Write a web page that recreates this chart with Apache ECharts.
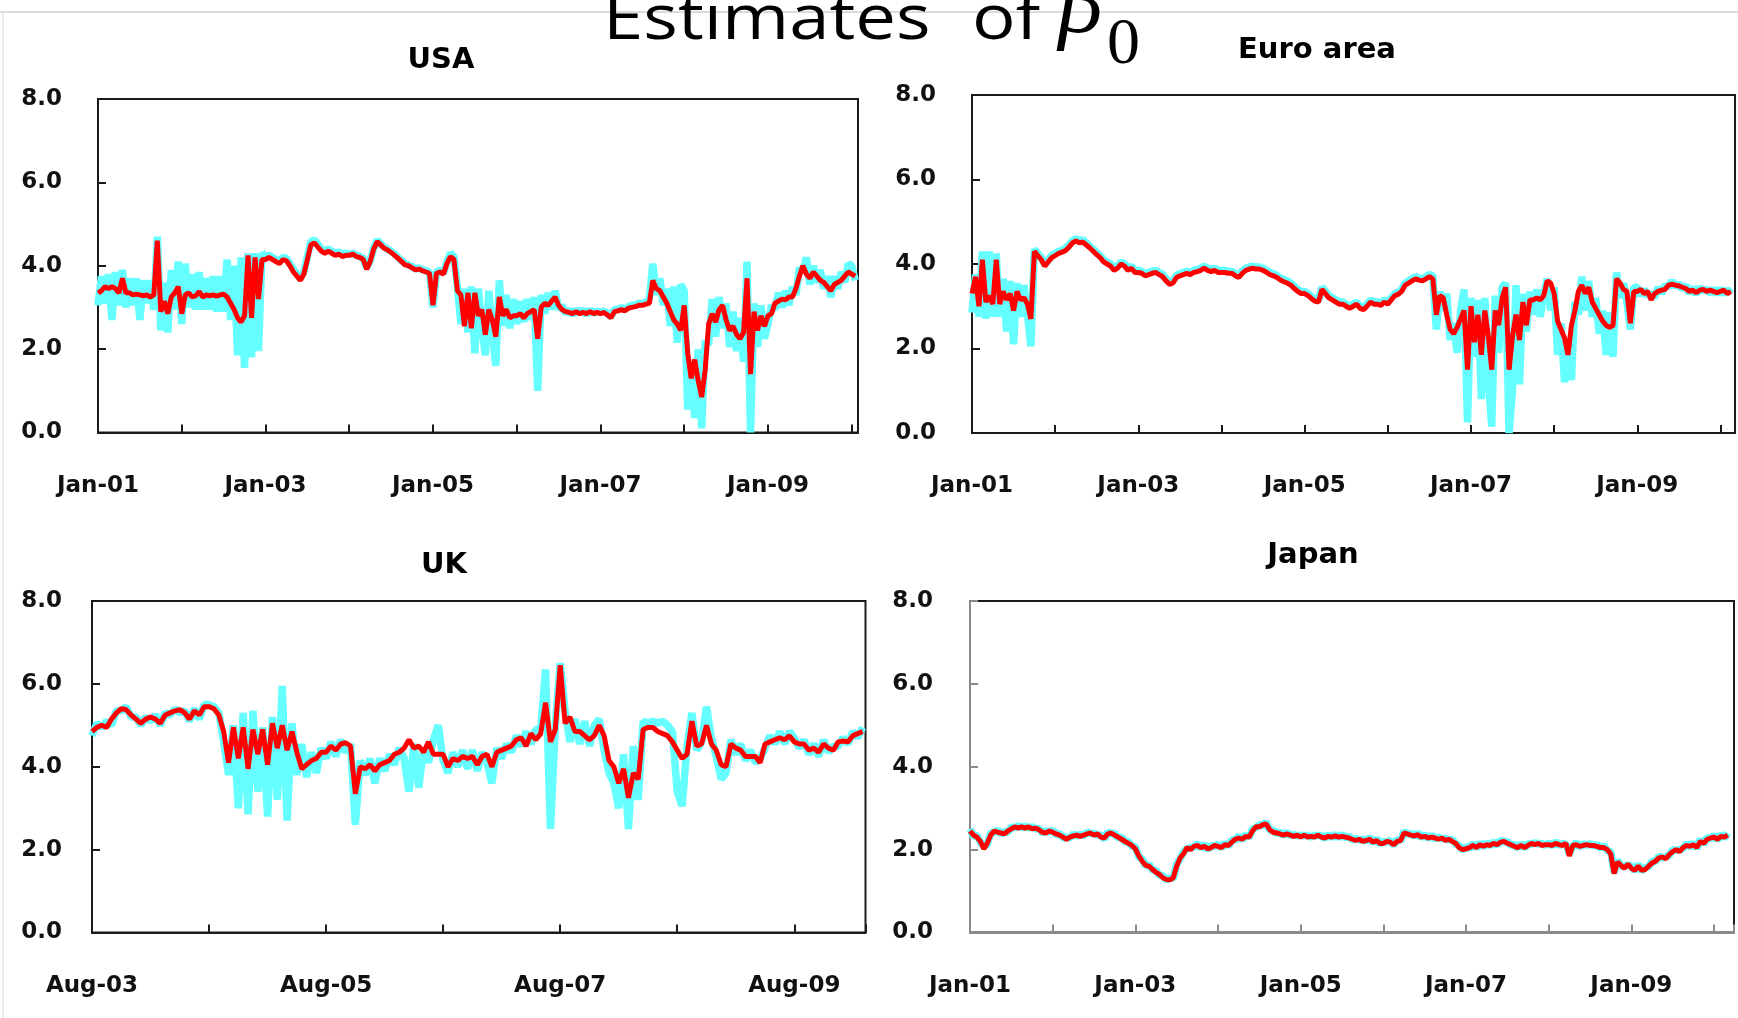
<!DOCTYPE html>
<html>
<head>
<meta charset="utf-8">
<script src="https://cdn.jsdelivr.net/npm/echarts@6/dist/echarts.min.js"></script>
<style>
  html, body { margin: 0; padding: 0; background: #ffffff; }
  #chart { width: 1738px; height: 1018px; }
</style>
</head>
<body>
<div id="chart"></div>
<script>
// Half-monthly estimates of the level factor (beta_0); one row per year.
// Red: point estimate. Cyan: alternative estimate (noisier).

const yTickLabels = ['0.0', '2.0', '4.0', '6.0', '8.0'];

// ---------- USA (from Jan-01) ----------
const usaXLabels = ['Jan-01', 'Jan-03', 'Jan-05', 'Jan-07', 'Jan-09'];
const usaRed = [
  3.35, 3.40, 3.50, 3.45, 3.50, 3.45, 3.35, 3.70, 3.35, 3.35, 3.30, 3.32, 3.30, 3.28, 3.30, 3.25, 3.30, 4.60, 2.90, 3.15, 2.85, 3.25, 3.35, 3.50,
  2.85, 3.30, 3.35, 3.25, 3.28, 3.38, 3.25, 3.30, 3.28, 3.30, 3.27, 3.30, 3.32, 3.25, 3.10, 2.95, 2.75, 2.65, 2.80, 4.25, 2.75, 4.20, 3.20, 4.15,
  4.15, 4.20, 4.15, 4.10, 4.05, 4.15, 4.12, 4.00, 3.85, 3.75, 3.65, 3.80, 4.15, 4.50, 4.55, 4.45, 4.35, 4.30, 4.35, 4.30, 4.25, 4.28, 4.22, 4.25,
  4.25, 4.28, 4.22, 4.20, 4.15, 3.92, 4.10, 4.40, 4.58, 4.50, 4.42, 4.38, 4.32, 4.25, 4.18, 4.10, 4.02, 4.00, 3.95, 3.90, 3.92, 3.88, 3.85, 3.82,
  3.05, 3.82, 3.85, 3.80, 4.05, 4.22, 4.15, 3.40, 3.30, 2.55, 3.35, 2.50, 3.35, 2.80, 2.95, 2.35, 2.95, 2.70, 2.30, 3.25, 2.80, 2.95, 2.75, 2.80,
  2.80, 2.85, 2.75, 2.85, 2.90, 2.95, 2.25, 3.00, 3.10, 3.05, 3.15, 3.25, 3.05, 2.95, 2.90, 2.88, 2.85, 2.90, 2.85, 2.88, 2.85, 2.90, 2.85, 2.88,
  2.85, 2.88, 2.82, 2.75, 2.90, 2.92, 2.95, 2.92, 2.98, 3.00, 3.02, 3.05, 3.05, 3.08, 3.10, 3.65, 3.45, 3.40, 3.25, 3.10, 2.90, 2.70, 2.60, 2.45,
  3.05, 1.90, 1.30, 1.75, 1.25, 0.85, 1.50, 2.60, 2.85, 2.65, 2.95, 3.05, 2.70, 2.45, 2.55, 2.35, 2.25, 2.40, 3.70, 1.40, 2.90, 2.45, 2.80, 2.55,
  2.80, 2.85, 3.10, 3.15, 3.20, 3.18, 3.25, 3.25, 3.45, 3.75, 4.00, 3.80, 3.70, 3.85, 3.75, 3.65, 3.60, 3.50, 3.40, 3.55, 3.60, 3.65, 3.75, 3.85,
  3.80, 3.75
];
const usaCyan = [
  3.05, 3.75, 3.10, 3.80, 2.70, 3.85, 3.05, 3.90, 3.00, 3.70, 3.05, 3.70, 2.70, 3.65, 3.10, 3.65, 2.95, 4.70, 2.45, 3.60, 2.40, 3.90, 2.95, 4.10,
  2.60, 4.05, 3.00, 3.80, 2.95, 3.85, 2.95, 3.70, 2.95, 3.75, 2.90, 3.75, 2.90, 4.15, 2.70, 4.00, 1.85, 4.20, 1.55, 4.30, 1.80, 4.30, 1.95, 4.30,
  4.22, 4.25, 4.20, 4.15, 4.12, 4.20, 4.18, 4.05, 3.92, 3.80, 3.70, 3.85, 4.22, 4.58, 4.62, 4.52, 4.40, 4.35, 4.40, 4.35, 4.30, 4.33, 4.28, 4.30,
  4.28, 4.30, 4.25, 4.22, 4.18, 3.95, 4.12, 4.42, 4.62, 4.52, 4.45, 4.40, 4.35, 4.28, 4.20, 4.12, 4.05, 4.02, 3.98, 3.92, 3.95, 3.90, 3.88, 3.85,
  3.00, 3.85, 3.90, 3.82, 4.10, 4.30, 4.22, 3.50, 2.60, 3.45, 2.40, 3.50, 1.90, 3.45, 2.55, 1.85, 3.40, 2.40, 1.60, 3.65, 2.55, 3.30, 2.50, 3.20,
  2.60, 3.15, 2.65, 3.20, 2.70, 3.25, 1.00, 3.30, 2.85, 3.35, 2.95, 3.40, 2.95, 3.05, 2.85, 2.95, 2.82, 2.95, 2.85, 2.95, 2.82, 2.95, 2.85, 2.92,
  2.88, 2.92, 2.85, 2.78, 2.95, 2.95, 3.00, 2.95, 3.02, 3.05, 3.05, 3.10, 3.10, 3.12, 3.20, 4.05, 3.30, 3.70, 3.05, 3.45, 2.55, 3.50, 2.15, 3.55,
  3.40, 0.55, 1.70, 0.35, 2.00, 0.10, 2.20, 2.10, 3.20, 2.30, 3.25, 2.50, 3.10, 2.05, 2.90, 1.95, 2.75, 1.70, 4.10, 0.00, 3.10, 2.05, 3.05, 2.25,
  2.60, 3.05, 2.95, 3.35, 3.00, 3.40, 3.05, 3.50, 3.30, 3.95, 3.85, 4.20, 3.55, 4.00, 3.60, 3.90, 3.45, 3.75, 3.25, 3.75, 3.45, 3.85, 3.60, 4.05,
  4.00, 3.65
];

// ---------- Euro area (from Jan-01) ----------
const euroXLabels = ['Jan-01', 'Jan-03', 'Jan-05', 'Jan-07', 'Jan-09'];
const euroRed = [
  3.30, 3.70, 3.00, 4.10, 3.10, 3.25, 3.05, 4.10, 3.05, 3.35, 3.15, 3.30, 2.90, 3.35, 3.15, 3.20, 3.05, 2.70, 4.30, 4.20, 4.10, 3.95, 4.05, 4.15,
  4.20, 4.25, 4.28, 4.32, 4.40, 4.50, 4.55, 4.50, 4.52, 4.45, 4.38, 4.30, 4.22, 4.15, 4.05, 4.00, 3.95, 3.85, 3.90, 4.00, 3.95, 3.85, 3.90, 3.80,
  3.80, 3.78, 3.72, 3.75, 3.78, 3.80, 3.75, 3.70, 3.60, 3.52, 3.55, 3.68, 3.72, 3.75, 3.78, 3.75, 3.80, 3.82, 3.85, 3.90, 3.85, 3.82, 3.85, 3.80,
  3.80, 3.80, 3.78, 3.78, 3.72, 3.68, 3.78, 3.85, 3.88, 3.90, 3.88, 3.88, 3.85, 3.80, 3.75, 3.72, 3.68, 3.62, 3.58, 3.55, 3.50, 3.42, 3.35, 3.30,
  3.30, 3.25, 3.18, 3.12, 3.10, 3.40, 3.30, 3.20, 3.15, 3.10, 3.05, 3.05, 3.00, 2.95, 3.00, 3.05, 2.95, 2.92, 3.00, 3.10, 3.05, 3.05, 3.02, 3.10,
  3.05, 3.15, 3.25, 3.28, 3.35, 3.50, 3.55, 3.60, 3.65, 3.62, 3.60, 3.65, 3.70, 3.65, 2.80, 3.25, 3.20, 2.80, 2.45, 2.35, 2.50, 2.70, 2.90, 1.50,
  3.00, 2.15, 2.80, 1.85, 2.90, 2.30, 1.50, 2.90, 2.55, 3.20, 3.45, 1.50, 2.30, 2.80, 2.20, 3.10, 2.55, 3.15, 3.15, 3.20, 3.15, 3.25, 3.60, 3.55,
  3.30, 2.65, 2.45, 2.25, 1.85, 2.55, 2.90, 3.35, 3.50, 3.30, 3.45, 3.10, 2.95, 2.80, 2.65, 2.55, 2.50, 2.55, 3.65, 3.55, 3.40, 3.35, 2.60, 3.35,
  3.35, 3.40, 3.30, 3.35, 3.15, 3.30, 3.35, 3.38, 3.40, 3.50, 3.52, 3.50, 3.48, 3.45, 3.42, 3.35, 3.38, 3.32, 3.38, 3.40, 3.35, 3.38, 3.35, 3.32,
  3.35, 3.38, 3.30, 3.35
];
const euroCyan = [
  2.85, 3.75, 2.75, 4.30, 2.70, 4.30, 2.75, 4.25, 2.75, 3.65, 2.40, 3.60, 2.10, 3.55, 2.75, 3.50, 2.80, 2.05, 4.35, 4.25, 4.15, 3.98, 4.10, 4.20,
  4.25, 4.30, 4.32, 4.38, 4.45, 4.55, 4.60, 4.55, 4.57, 4.50, 4.42, 4.35, 4.27, 4.20, 4.10, 4.05, 4.00, 3.90, 3.95, 4.05, 4.00, 3.90, 3.95, 3.85,
  3.85, 3.83, 3.77, 3.80, 3.83, 3.85, 3.80, 3.75, 3.65, 3.57, 3.60, 3.73, 3.77, 3.80, 3.83, 3.80, 3.85, 3.87, 3.90, 3.95, 3.90, 3.87, 3.90, 3.85,
  3.85, 3.85, 3.83, 3.83, 3.77, 3.73, 3.83, 3.90, 3.93, 3.95, 3.93, 3.93, 3.90, 3.85, 3.80, 3.77, 3.73, 3.67, 3.63, 3.60, 3.55, 3.47, 3.40, 3.35,
  3.35, 3.30, 3.23, 3.17, 3.15, 3.45, 3.35, 3.25, 3.20, 3.15, 3.10, 3.10, 3.05, 3.00, 3.05, 3.10, 3.00, 2.97, 3.05, 3.15, 3.10, 3.10, 3.07, 3.15,
  3.10, 3.20, 3.30, 3.33, 3.40, 3.55, 3.60, 3.65, 3.70, 3.67, 3.65, 3.70, 3.75, 3.72, 2.45, 3.35, 2.90, 3.30, 2.20, 2.60, 1.90, 2.90, 3.40, 0.25,
  3.20, 1.80, 3.15, 0.80, 3.20, 1.30, 0.15, 3.25, 1.90, 3.45, 3.55, 0.00, 1.05, 3.50, 1.15, 3.30, 2.40, 3.35, 2.80, 3.40, 2.75, 3.30, 3.65, 2.90,
  3.45, 1.85, 2.60, 1.20, 2.05, 1.25, 3.10, 2.80, 3.70, 2.90, 3.60, 2.75, 3.20, 2.35, 2.90, 1.85, 2.85, 1.80, 3.80, 3.20, 3.55, 3.10, 2.45, 3.45,
  3.45, 3.25, 3.40, 3.25, 3.30, 3.20, 3.45, 3.30, 3.50, 3.45, 3.60, 3.45, 3.55, 3.40, 3.50, 3.30, 3.45, 3.28, 3.45, 3.35, 3.42, 3.30, 3.42, 3.28,
  3.42, 3.28, 3.40, 3.30
];

// ---------- UK (from Aug-03) ----------
const ukXLabels = ['Aug-03', 'Aug-05', 'Aug-07', 'Aug-09'];
const ukRed = [
  4.85, 4.95, 5.00, 4.95, 5.15, 5.30, 5.40, 5.38, 5.25, 5.15, 5.05, 5.15, 5.20, 5.15, 5.05, 5.25, 5.30, 5.35, 5.38, 5.30, 5.15, 5.35, 5.25, 5.45,
  5.45, 5.40, 5.25, 4.85, 4.10, 4.95, 4.20, 4.95, 3.95, 4.90, 4.30, 4.90, 4.05, 5.05, 4.45, 5.00, 4.40, 4.85, 4.35, 3.95, 4.05, 4.15, 4.20, 4.35,
  4.35, 4.50, 4.40, 4.55, 4.58, 4.50, 3.35, 4.00, 3.95, 4.05, 3.90, 4.05, 4.10, 4.15, 4.30, 4.35, 4.45, 4.65, 4.45, 4.50, 4.35, 4.60, 4.30, 4.30,
  4.30, 4.00, 4.20, 4.15, 4.25, 4.20, 4.25, 4.05, 4.25, 4.30, 4.00, 4.35, 4.40, 4.45, 4.50, 4.65, 4.70, 4.50, 4.80, 4.65, 4.80, 5.55, 4.60, 4.90,
  6.45, 5.05, 5.20, 4.85, 4.85, 4.75, 4.65, 4.75, 5.00, 4.75, 4.15, 4.00, 3.60, 3.95, 3.25, 3.85, 3.70, 4.90, 4.95, 4.95, 4.85, 4.80, 4.75, 4.60,
  4.40, 4.20, 4.30, 5.10, 4.50, 4.55, 5.00, 4.55, 4.40, 4.05, 4.00, 4.55, 4.45, 4.40, 4.25, 4.25, 4.25, 4.10, 4.55, 4.60, 4.65, 4.70, 4.65, 4.75,
  4.60, 4.55, 4.55, 4.40, 4.45, 4.35, 4.55, 4.45, 4.40, 4.60, 4.62, 4.60, 4.75, 4.80, 4.85
];
const ukCyan = [
  4.75, 5.05, 4.95, 5.10, 5.00, 5.35, 5.35, 5.45, 5.20, 5.20, 5.00, 5.20, 5.10, 5.25, 5.00, 5.30, 5.25, 5.40, 5.30, 5.35, 5.10, 5.40, 5.15, 5.50,
  5.50, 5.45, 5.30, 4.60, 3.80, 5.00, 3.00, 5.30, 2.85, 5.35, 3.40, 4.95, 2.80, 5.20, 3.20, 5.95, 2.70, 5.05, 3.80, 4.55, 3.75, 4.35, 3.85, 4.45,
  4.20, 4.60, 4.25, 4.65, 4.35, 4.55, 2.60, 4.15, 3.80, 4.20, 3.60, 4.20, 3.90, 4.30, 4.05, 4.45, 4.20, 3.40, 4.55, 3.50, 4.45, 4.10, 4.65, 5.00,
  4.15, 3.85, 4.35, 4.00, 4.40, 3.95, 4.40, 3.90, 4.35, 4.10, 3.60, 4.45, 4.20, 4.55, 4.35, 4.75, 4.50, 4.85, 4.55, 4.90, 4.90, 6.35, 2.50, 5.00,
  6.50, 5.35, 4.60, 5.15, 4.55, 5.10, 4.50, 5.00, 5.15, 4.40, 3.85, 3.60, 3.00, 4.30, 2.50, 4.50, 3.20, 5.10, 5.05, 5.10, 5.05, 5.10, 5.00, 4.85,
  3.40, 3.05, 4.50, 5.30, 4.40, 4.60, 5.45, 4.70, 4.25, 3.70, 3.85, 4.65, 4.30, 4.55, 4.15, 4.40, 4.10, 4.20, 4.45, 4.75, 4.55, 4.85, 4.55, 4.85,
  4.70, 4.45, 4.65, 4.30, 4.55, 4.25, 4.65, 4.35, 4.50, 4.50, 4.70, 4.55, 4.85, 4.70, 4.95
];

// ---------- Japan (from Jan-01) ----------
const japanXLabels = ['Jan-01', 'Jan-03', 'Jan-05', 'Jan-07', 'Jan-09'];
const japanRed = [
  2.45, 2.35, 2.30, 2.20, 2.02, 2.15, 2.35, 2.45, 2.42, 2.40, 2.38, 2.45, 2.50, 2.55, 2.52, 2.55, 2.52, 2.55, 2.50, 2.52, 2.48, 2.42, 2.40, 2.45,
  2.42, 2.38, 2.35, 2.30, 2.25, 2.30, 2.33, 2.35, 2.32, 2.35, 2.38, 2.40, 2.35, 2.38, 2.30, 2.28, 2.38, 2.40, 2.35, 2.30, 2.25, 2.20, 2.15, 2.10,
  2.02, 1.85, 1.72, 1.62, 1.60, 1.52, 1.45, 1.40, 1.32, 1.28, 1.27, 1.32, 1.60, 1.80, 1.90, 2.05, 2.00, 2.08, 2.10, 2.05, 2.08, 2.02, 2.05, 2.10,
  2.08, 2.05, 2.12, 2.10, 2.18, 2.25, 2.28, 2.25, 2.32, 2.30, 2.45, 2.55, 2.55, 2.60, 2.62, 2.48, 2.42, 2.40, 2.38, 2.35, 2.38, 2.35, 2.32, 2.35,
  2.30, 2.35, 2.30, 2.32, 2.30, 2.35, 2.30, 2.28, 2.32, 2.30, 2.33, 2.30, 2.32, 2.30, 2.28, 2.25, 2.22, 2.25, 2.20, 2.22, 2.25, 2.18, 2.22, 2.15,
  2.15, 2.20, 2.18, 2.12, 2.20, 2.22, 2.40, 2.38, 2.35, 2.33, 2.36, 2.30, 2.32, 2.28, 2.30, 2.28, 2.25, 2.28, 2.22, 2.25, 2.20, 2.15, 2.05, 2.00,
  2.02, 2.05, 2.10, 2.05, 2.12, 2.08, 2.12, 2.10, 2.15, 2.12, 2.18, 2.20, 2.15, 2.12, 2.08, 2.05, 2.10, 2.05, 2.10, 2.15, 2.12, 2.15, 2.10, 2.12,
  2.12, 2.10, 2.15, 2.12, 2.10, 2.15, 1.85, 2.10, 2.12, 2.08, 2.10, 2.12, 2.10, 2.10, 2.08, 2.05, 2.05, 2.00, 1.90, 1.42, 1.70, 1.62, 1.55, 1.65,
  1.55, 1.50, 1.60, 1.50, 1.52, 1.60, 1.68, 1.72, 1.80, 1.82, 1.78, 1.88, 1.95, 2.00, 1.95, 2.05, 2.10, 2.08, 2.12, 2.05, 2.20, 2.15, 2.25, 2.28,
  2.30, 2.25, 2.32, 2.30, 2.35
];
const japanCyan = [
  2.50, 2.32, 2.35, 2.18, 2.08, 2.12, 2.40, 2.42, 2.47, 2.38, 2.43, 2.42, 2.55, 2.52, 2.58, 2.52, 2.57, 2.52, 2.55, 2.50, 2.52, 2.40, 2.45, 2.43,
  2.47, 2.35, 2.40, 2.28, 2.30, 2.28, 2.38, 2.33, 2.37, 2.33, 2.43, 2.38, 2.40, 2.35, 2.35, 2.25, 2.43, 2.38, 2.40, 2.28, 2.30, 2.18, 2.20, 2.08,
  2.07, 1.82, 1.77, 1.60, 1.65, 1.50, 1.50, 1.38, 1.37, 1.26, 1.32, 1.30, 1.65, 1.78, 1.95, 2.02, 2.05, 2.06, 2.15, 2.03, 2.13, 2.00, 2.10, 2.08,
  2.13, 2.03, 2.17, 2.08, 2.23, 2.23, 2.33, 2.23, 2.37, 2.28, 2.50, 2.53, 2.60, 2.58, 2.67, 2.46, 2.47, 2.38, 2.43, 2.33, 2.43, 2.33, 2.37, 2.33,
  2.35, 2.33, 2.35, 2.30, 2.35, 2.33, 2.35, 2.26, 2.37, 2.28, 2.38, 2.28, 2.37, 2.28, 2.33, 2.23, 2.27, 2.23, 2.25, 2.20, 2.30, 2.16, 2.27, 2.13,
  2.20, 2.18, 2.23, 2.10, 2.25, 2.20, 2.45, 2.36, 2.40, 2.31, 2.41, 2.28, 2.37, 2.26, 2.35, 2.26, 2.30, 2.26, 2.27, 2.23, 2.25, 2.13, 2.10, 1.98,
  2.07, 2.03, 2.15, 2.03, 2.17, 2.06, 2.17, 2.08, 2.20, 2.10, 2.23, 2.18, 2.20, 2.10, 2.13, 2.03, 2.15, 2.03, 2.15, 2.13, 2.17, 2.13, 2.15, 2.10,
  2.17, 2.08, 2.20, 2.10, 2.15, 2.13, 1.90, 2.08, 2.17, 2.06, 2.15, 2.10, 2.15, 2.08, 2.13, 2.03, 2.10, 1.98, 1.95, 1.45, 1.75, 1.60, 1.60, 1.63,
  1.60, 1.48, 1.65, 1.48, 1.57, 1.58, 1.73, 1.70, 1.85, 1.80, 1.83, 1.86, 2.00, 1.98, 2.00, 2.03, 2.15, 2.06, 2.17, 2.03, 2.25, 2.13, 2.30, 2.26,
  2.35, 2.23, 2.37, 2.28, 2.40
];

// ---------- layout ----------
const LABEL_FONT = '"DejaVu Sans", "Liberation Sans", sans-serif';
const TITLE_FONT = '62px "Open Sans", "Noto Sans", sans-serif';
const AXIS_COLOR = '#1a1a1a';

const panels = [
  { title: 'USA',       tx: 441,  ty: 60,  grid: { left: 98,  top: 99,  width: 760,   height: 333.5 }, xMax: 108.9, xLabels: usaXLabels,   red: usaRed,   cyan: usaCyan,   yMargin: 36, axisColor: AXIS_COLOR },
  { title: 'Euro area', tx: 1317, ty: 50,  grid: { left: 972, top: 95,  width: 764,   height: 338   }, xMax: 110.1, xLabels: euroXLabels,  red: euroRed,  cyan: euroCyan,  yMargin: 36, axisColor: AXIS_COLOR },
  { title: 'UK',        tx: 444,  ty: 565, grid: { left: 92,  top: 601, width: 773.5, height: 331.5 }, xMax: 79.3,  xLabels: ukXLabels,    red: ukRed,    cyan: ukCyan,    yMargin: 30, axisColor: AXIS_COLOR },
  { title: 'Japan',     tx: 1313, ty: 555, grid: { left: 970, top: 601, width: 764,   height: 331.5 }, xMax: 110.9, xLabels: japanXLabels, red: japanRed, cyan: japanCyan, yMargin: 37, axisColor: '#8a8a8a' }
];

// x is measured in months from the first observation; one point every half month
const toPoints = arr => arr.map((v, i) => [i / 2, v]);

const grids = [], xAxes = [], yAxes = [], series = [];
const graphics = [
  { type: 'line', z: 0, shape: { x1: 0, y1: 12, x2: 1738, y2: 12 }, style: { stroke: '#cfcfcf', lineWidth: 1.5 } },
  { type: 'line', z: 0, shape: { x1: 3, y1: 12, x2: 3, y2: 1018 }, style: { stroke: '#e4e4e4', lineWidth: 1.5 } },
  { type: 'text', z: 5, x: 603, y: 21, scaleX: 1.17, style: { text: 'Estimates', font: TITLE_FONT, fill: '#000', align: 'left', verticalAlign: 'middle' } },
  { type: 'text', z: 5, x: 972, y: 21, scaleX: 1.17, style: { text: 'of', font: TITLE_FONT, fill: '#000', align: 'left', verticalAlign: 'middle' } },
  { type: 'text', z: 5, x: 1058, y: 8, style: { text: 'β', font: 'italic 90px "Liberation Serif", "DejaVu Serif", serif', fill: '#000', align: 'left', verticalAlign: 'middle' } },
  { type: 'text', z: 5, x: 1107, y: 46, style: { text: '0', font: '66px "Liberation Serif", "DejaVu Serif", serif', fill: '#000', align: 'left', verticalAlign: 'middle' } }
];

panels.forEach((p, gi) => {
  grids.push(Object.assign({ show: true, borderColor: AXIS_COLOR, borderWidth: 2, backgroundColor: '#ffffff', containLabel: false }, p.grid));

  xAxes.push({
    type: 'value', gridIndex: gi, min: 0, max: p.xMax, interval: 12,
    axisLine: { show: true, onZero: false, lineStyle: { color: p.axisColor, width: 2 } },
    axisTick: { show: true, inside: true, length: 8, lineStyle: { color: p.axisColor, width: 2 } },
    splitLine: { show: false },
    axisLabel: {
      margin: 42, color: '#111', fontFamily: LABEL_FONT, fontWeight: 'bold', fontSize: 23,
      formatter: v => {
        const m = Math.round(v);
        if (Math.abs(v - m) > 1e-6 || m % 24 !== 0) return '';
        return p.xLabels[m / 24] || '';
      }
    }
  });

  yAxes.push({
    type: 'value', gridIndex: gi, min: 0, max: 8, interval: 2,
    axisLine: { show: true, onZero: false, lineStyle: { color: p.axisColor, width: 2 } },
    axisTick: { show: true, inside: true, length: 8, lineStyle: { color: p.axisColor, width: 2 } },
    splitLine: { show: false },
    axisLabel: {
      margin: p.yMargin, color: '#111', fontFamily: LABEL_FONT, fontWeight: 'bold', fontSize: 23,
      formatter: v => yTickLabels[Math.round(v / 2)] || ''
    }
  });

  series.push({
    type: 'line', xAxisIndex: gi, yAxisIndex: gi, data: toPoints(p.cyan),
    symbol: 'none', showSymbol: false, silent: true, z: 2,
    lineStyle: { color: '#66FFFF', width: 7.5, join: 'bevel' }
  });
  series.push({
    type: 'line', xAxisIndex: gi, yAxisIndex: gi, data: toPoints(p.red),
    symbol: 'none', showSymbol: false, silent: true, z: 3,
    lineStyle: { color: '#FF0000', width: 5, join: 'bevel' }
  });

  graphics.push({
    type: 'text', z: 5, x: p.tx, y: p.ty,
    style: { text: p.title, font: 'bold 29px ' + LABEL_FONT, fill: '#000', align: 'center', verticalAlign: 'middle' }
  });
});

const chart = echarts.init(document.getElementById('chart'), null, { renderer: 'canvas' });
chart.setOption({
  animation: false,
  backgroundColor: '#ffffff',
  grid: grids,
  xAxis: xAxes,
  yAxis: yAxes,
  series: series,
  graphic: graphics
});
</script>
</body>
</html>
